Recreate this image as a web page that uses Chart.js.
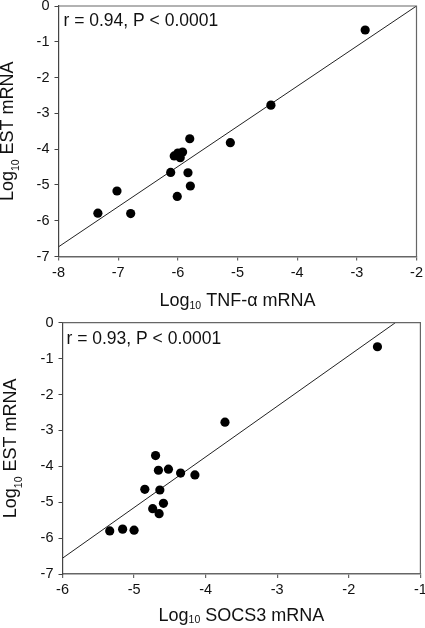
<!DOCTYPE html>
<html>
<head>
<meta charset="utf-8">
<script src="https://cdn.jsdelivr.net/npm/chart.js@4.4.0/dist/chart.umd.min.js"></script>
<style>
  html, body { margin: 0; padding: 0; background: #fff; }
  #wrap { position: relative; width: 425px; height: 628px; }
  canvas { position: absolute; left: 0; }
  #c1 { top: 0; }
  #c2 { top: 310px; }
</style>
</head>
<body>
<div id="wrap">
  <canvas id="c1" width="425" height="310"></canvas>
  <canvas id="c2" width="425" height="318"></canvas>
</div>
<script>
// ---- Data ----
const tnfX = [-2.86, -4.44, -5.80, -5.12, -5.92, -6.00, -6.06, -5.96, -6.12, -5.83, -5.79, -6.01, -7.02, -7.34, -6.79];
const tnfY = [-0.67, -2.77, -3.71, -3.82, -4.08, -4.11, -4.19, -4.24, -4.65, -4.66, -5.03, -5.32, -5.17, -5.79, -5.80];
const tnfFitX = [-8, -2];
const tnfFitY = [-6.73, 0];

const socsX = [-1.60, -3.73, -4.70, -4.66, -4.52, -4.35, -4.15, -4.85, -4.64, -4.59, -4.74, -4.65, -5.34, -5.16, -5.00];
const socsY = [-0.67, -2.77, -3.70, -4.11, -4.08, -4.19, -4.24, -4.64, -4.66, -5.03, -5.18, -5.32, -5.80, -5.75, -5.78];
const socsFitX = [-6, -1.35];
const socsFitY = [-6.56, 0];

const tnfXTicks = [-8, -7, -6, -5, -4, -3, -2];
const socsXTicks = [-6, -5, -4, -3, -2, -1];
const yTicks = [-7, -6, -5, -4, -3, -2, -1, 0];

const FONT = "'Liberation Sans', Arial, sans-serif";

function pts(xs, ys) { return xs.map((x, i) => ({ x: x, y: ys[i] })); }

function makeChart(id, cfg) {
  const framePlugin = {
    id: 'frame_' + id,
    afterDraw(chart) {
      const ctx = chart.ctx;
      const a = chart.chartArea;
      ctx.save();
      ctx.strokeStyle = '#666';
      ctx.lineWidth = 1.2;
      ctx.beginPath();
      ctx.moveTo(a.left, a.top);
      ctx.lineTo(a.right, a.top);
      ctx.lineTo(a.right, a.bottom);
      ctx.stroke();
      // annotation
      ctx.fillStyle = '#111';
      ctx.font = '17.5px ' + FONT;
      ctx.textBaseline = 'middle';
      ctx.textAlign = 'left';
      ctx.fillText(cfg.note, a.left + cfg.noteDX, cfg.noteY);
      // x title with subscript
      const big = '18px ' + FONT, small = '10.5px ' + FONT;
      ctx.textBaseline = 'alphabetic';
      ctx.font = big; const w1 = ctx.measureText('Log').width;
      const w3 = ctx.measureText(cfg.xRest).width;
      ctx.font = small; const w2 = ctx.measureText('10').width;
      let x0 = (a.left + a.right) / 2 - (w1 + w2 + w3) / 2;
      ctx.font = big; ctx.fillText('Log', x0, cfg.xTitleY);
      ctx.font = small; ctx.fillText('10', x0 + w1, cfg.xTitleY + 2.5);
      ctx.font = big; ctx.fillText(cfg.xRest, x0 + w1 + w2, cfg.xTitleY);
      // y title (rotated)
      ctx.font = big; const v1 = ctx.measureText('Log').width;
      const v3 = ctx.measureText(' EST mRNA').width;
      ctx.font = small; const v2 = ctx.measureText('10').width;
      ctx.translate(cfg.yTitleX, (a.top + a.bottom) / 2);
      ctx.rotate(-Math.PI / 2);
      let s0 = -(v1 + v2 + v3) / 2;
      ctx.font = big; ctx.fillText('Log', s0, 0);
      ctx.font = small; ctx.fillText('10', s0 + v1, 6);
      ctx.font = big; ctx.fillText(' EST mRNA', s0 + v1 + v2, 0);
      ctx.restore();
    }
  };

  return new Chart(document.getElementById(id), {
    type: 'scatter',
    data: {
      datasets: [
        {
          data: pts(cfg.fx, cfg.fy),
          showLine: true,
          borderColor: '#222',
          borderWidth: 1,
          pointRadius: 0,
          fill: false,
          order: 2
        },
        {
          data: pts(cfg.x, cfg.y),
          backgroundColor: '#000',
          borderWidth: 0,
          pointRadius: 4.6,
          order: 1
        }
      ]
    },
    options: {
      responsive: false,
      animation: false,
      events: [],
      layout: { padding: cfg.pad },
      plugins: { legend: { display: false }, tooltip: { enabled: false } },
      scales: {
        x: {
          type: 'linear',
          min: cfg.xTicks[0], max: cfg.xTicks[cfg.xTicks.length - 1],
          afterBuildTicks(s) { s.ticks = cfg.xTicks.map(v => ({ value: v })); },
          afterFit(s) { s.height = cfg.xH; s.paddingLeft = 0; s.paddingRight = 0; },
          grid: { drawOnChartArea: false, drawTicks: true, tickLength: 4, color: '#666', lineWidth: 1.2 },
          border: { display: true, color: '#666', width: 1.5 },
          ticks: { color: '#111', font: { family: FONT, size: 14.5 }, padding: cfg.xPad, maxRotation: 0,
                   callback: v => String(v) }
        },
        y: {
          type: 'linear',
          min: -7, max: 0,
          afterBuildTicks(s) { s.ticks = yTicks.map(v => ({ value: v })); },
          afterFit(s) { s.width = cfg.yW; s.paddingTop = 0; s.paddingBottom = 0; },
          grid: { drawOnChartArea: false, drawTicks: true, tickLength: 4, color: '#444', lineWidth: 1 },
          border: { display: true, color: '#444', width: 1.2 },
          ticks: { color: '#111', font: { family: FONT, size: 14.5 }, padding: 5,
                   callback: v => String(v) }
        }
      }
    },
    plugins: [framePlugin]
  });
}

makeChart('c1', {
  x: tnfX, y: tnfY, fx: tnfFitX, fy: tnfFitY, xTicks: tnfXTicks,
  pad: { left: 0, right: 8.5, top: 6, bottom: 0 },
  yW: 58.5, xH: 53.5, xPad: 4,
  note: 'r = 0.94, P < 0.0001', noteDX: 5, noteY: 20.7,
  xRest: ' TNF-\u03B1 mRNA', xTitleY: 306, yTitleX: 13
});

makeChart('c2', {
  x: socsX, y: socsY, fx: socsFitX, fy: socsFitY, xTicks: socsXTicks,
  pad: { left: 0, right: 4.5, top: 12.7, bottom: 0 },
  yW: 62.5, xH: 54, xPad: 3,
  note: 'r = 0.93, P < 0.0001', noteDX: 4, noteY: 29.3,
  xRest: ' SOCS3 mRNA', xTitleY: 310.5, yTitleX: 16
});
</script>
</body>
</html>
